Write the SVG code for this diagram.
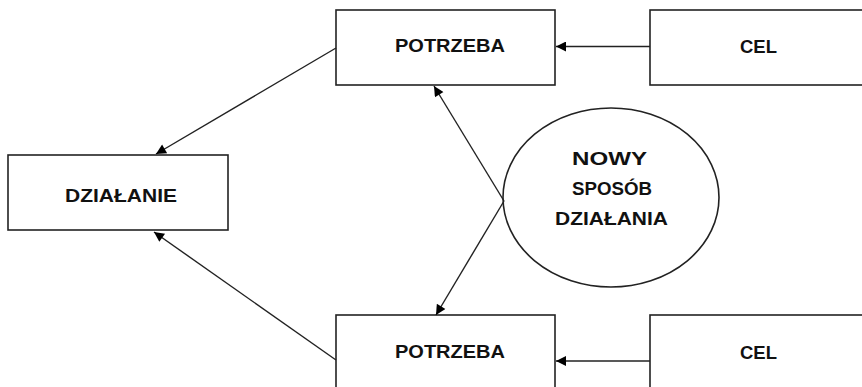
<svg xmlns="http://www.w3.org/2000/svg" width="862" height="387" viewBox="0 0 862 387">
<defs>
<marker id="ah" viewBox="0 0 10 10" refX="10" refY="5" markerWidth="12" markerHeight="10" markerUnits="userSpaceOnUse" orient="auto">
<path d="M0,0 L10,5 L0,10 z" fill="#000"/>
</marker>
</defs>
<style>
.box{fill:#fff;stroke:#222;stroke-width:1.6}
.lbl{font-family:"Liberation Sans",Arial,sans-serif;font-weight:bold;font-size:18px;fill:#111;text-anchor:middle}
.con{stroke:#222;stroke-width:1.4;fill:none;marker-end:url(#ah)}
</style>
<rect width="862" height="387" fill="#fff"/>
<g id="potrzeba-top">
<rect class="box" x="336" y="10" width="219" height="75"/>
<text class="lbl" x="450" y="52" textLength="110" lengthAdjust="spacingAndGlyphs">POTRZEBA</text>
</g>
<g id="cel-top">
<rect class="box" x="650" y="10" width="220" height="75"/>
<text class="lbl" x="758.5" y="53" textLength="37" lengthAdjust="spacingAndGlyphs">CEL</text>
</g>
<g id="dzialanie">
<rect class="box" x="8" y="155" width="220" height="75"/>
<text class="lbl" x="121" y="202" textLength="112" lengthAdjust="spacingAndGlyphs">DZIAŁANIE</text>
</g>
<g id="nowy-sposob">
<ellipse class="box" cx="611" cy="197.5" rx="108" ry="89.5"/>
<text class="lbl" x="609.5" y="165" textLength="75" lengthAdjust="spacingAndGlyphs">NOWY</text>
<text class="lbl" x="612" y="195" textLength="80" lengthAdjust="spacingAndGlyphs">SPOSÓB</text>
<text class="lbl" x="611.5" y="225" textLength="113" lengthAdjust="spacingAndGlyphs">DZIAŁANIA</text>
</g>
<g id="potrzeba-bottom">
<rect class="box" x="336" y="315" width="219" height="80"/>
<text class="lbl" x="450" y="358" textLength="110" lengthAdjust="spacingAndGlyphs">POTRZEBA</text>
</g>
<g id="cel-bottom">
<rect class="box" x="650" y="315" width="220" height="80"/>
<text class="lbl" x="758.5" y="359" textLength="37" lengthAdjust="spacingAndGlyphs">CEL</text>
</g>
<g id="connectors">
<line class="con" x1="650" y1="46.5" x2="556" y2="46.5"/>
<line class="con" x1="650" y1="361" x2="556" y2="361"/>
<line class="con" x1="336" y1="48" x2="156" y2="154"/>
<line class="con" x1="336" y1="360" x2="154" y2="232"/>
<line class="con" x1="504" y1="201" x2="434" y2="86"/>
<line class="con" x1="504" y1="201" x2="436" y2="315"/>
</g>
</svg>
